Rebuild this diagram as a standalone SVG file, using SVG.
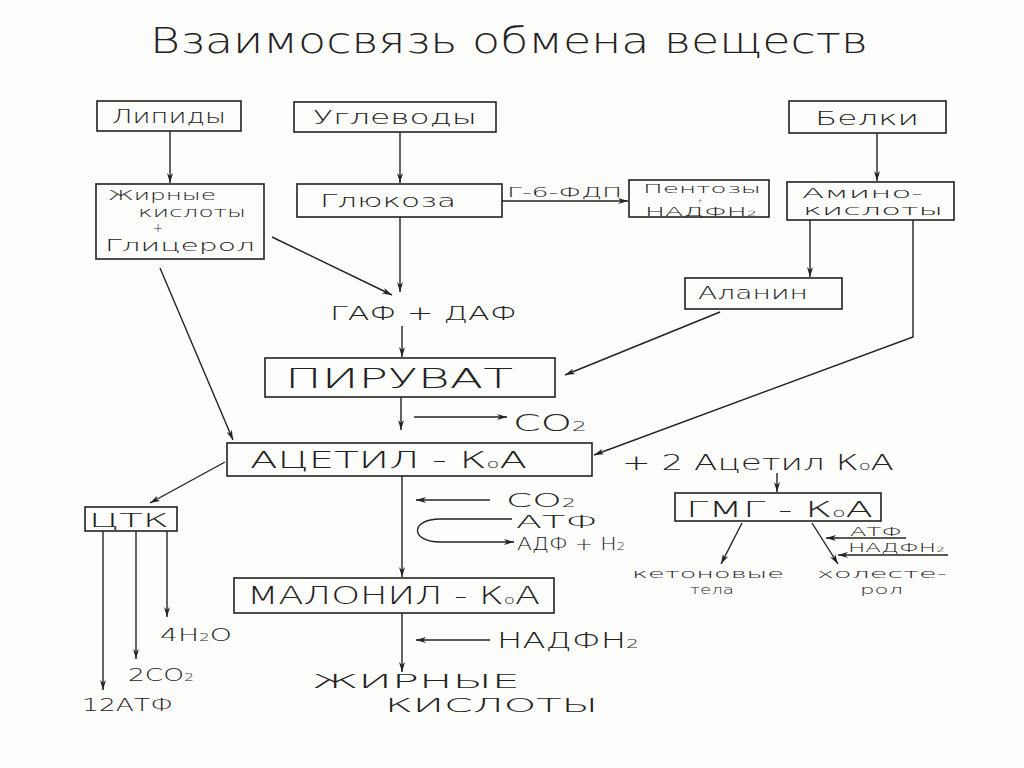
<svg xmlns="http://www.w3.org/2000/svg" width="1024" height="768" viewBox="0 0 1024 768">
<defs>
<marker id="ah" viewBox="0 0 10 6" refX="10" refY="3" markerWidth="10" markerHeight="6" markerUnits="userSpaceOnUse" orient="auto">
<path d="M0,0 L10,3 L0,6 L3,3 Z" fill="#222"/>
</marker>
<style>
.bx{fill:none;stroke:#222;stroke-width:1.6}
.ar{fill:none;stroke:#222;stroke-width:1.4;marker-end:url(#ah)}
text{font-family:"DejaVu Sans","Liberation Sans",sans-serif;fill:#222;font-weight:300}
.t{font-size:19px;text-anchor:middle}
.sub{font-size:0.6em}
</style>
</defs>
<rect width="1024" height="768" fill="#fdfdfc"/>
<text x="150" y="53" font-size="36" textLength="718" lengthAdjust="spacingAndGlyphs">Взаимосвязь обмена веществ</text>

<g id="lipidy"><rect class="bx" x="97" y="101" width="144" height="30"/><text class="t" x="169" y="123" textLength="114" lengthAdjust="spacingAndGlyphs">Липиды</text></g>
<g id="uglevody"><rect class="bx" x="294" y="102" width="202" height="30"/><text class="t" x="395" y="124" textLength="164" lengthAdjust="spacingAndGlyphs">Углеводы</text></g>
<g id="belki"><rect class="bx" x="789" y="101" width="157" height="32"/><text class="t" x="867" y="125" textLength="104" lengthAdjust="spacingAndGlyphs">Белки</text></g>

<g id="zhk"><rect class="bx" x="96" y="184" width="168" height="75"/>
<text x="108" y="200" font-size="14" textLength="108" lengthAdjust="spacingAndGlyphs">Жирные</text>
<text x="138" y="217" font-size="14" textLength="108" lengthAdjust="spacingAndGlyphs">кислоты</text>
<text x="158" y="232" font-size="12" text-anchor="middle">+</text>
<text x="105" y="251" font-size="15" textLength="150" lengthAdjust="spacingAndGlyphs">Глицерол</text></g>

<g id="glukoza"><rect class="bx" x="297" y="184" width="205" height="33"/><text x="320" y="207" font-size="18" textLength="136" lengthAdjust="spacingAndGlyphs">Глюкоза</text></g>

<g id="pentozy"><rect class="bx" x="629" y="180" width="140" height="37"/>
<text x="643" y="193" font-size="12" textLength="118" lengthAdjust="spacingAndGlyphs">Пентозы</text>
<text x="700" y="202.5" font-size="7" text-anchor="middle">+</text>
<text x="645" y="216" font-size="12" textLength="112" lengthAdjust="spacingAndGlyphs">НАДФН<tspan class="sub">2</tspan></text></g>

<g id="amino"><rect class="bx" x="787" y="182" width="167" height="38"/>
<text x="802" y="198" font-size="14" textLength="121" lengthAdjust="spacingAndGlyphs">Амино-</text>
<text x="803" y="215" font-size="14" textLength="140" lengthAdjust="spacingAndGlyphs">кислоты</text></g>

<g id="alanin"><rect class="bx" x="685" y="278" width="157" height="31"/><text x="698" y="299" font-size="17" textLength="110" lengthAdjust="spacingAndGlyphs">Аланин</text></g>

<g id="gaf"><text x="330" y="320" font-size="20" textLength="187" lengthAdjust="spacingAndGlyphs">ГАФ + ДАФ</text></g>

<g id="piruvat"><rect class="bx" x="265" y="358" width="290" height="39"/><text x="285" y="388" font-size="27" textLength="228" lengthAdjust="spacingAndGlyphs">ПИРУВАТ</text></g>
<g id="co2a"><text x="513" y="431" font-size="23" textLength="74" lengthAdjust="spacingAndGlyphs">CO<tspan class="sub">2</tspan></text></g>

<g id="acetil"><rect class="bx" x="227" y="443" width="365" height="33"/><text x="250" y="468" font-size="23" textLength="277" lengthAdjust="spacingAndGlyphs">АЦЕТИЛ - К<tspan font-size="12">о</tspan>А</text></g>
<g id="acetil2"><text x="622" y="470" font-size="21" textLength="272" lengthAdjust="spacingAndGlyphs">+ 2 Ацетил К<tspan font-size="12">о</tspan>А</text></g>

<g id="gmg"><rect class="bx" x="675" y="493" width="206" height="28"/><text x="686" y="517" font-size="22" textLength="187" lengthAdjust="spacingAndGlyphs">ГМГ - К<tspan font-size="12">о</tspan>А</text></g>
<g id="gmg-in"><text x="850" y="536" font-size="12" textLength="52" lengthAdjust="spacingAndGlyphs">АТФ</text>
<text x="848" y="552" font-size="12" textLength="97" lengthAdjust="spacingAndGlyphs">НАДФН<tspan class="sub">2</tspan></text></g>
<g id="keton"><text x="632" y="578" font-size="13" textLength="152" lengthAdjust="spacingAndGlyphs">кетоновые</text><text x="690" y="594" font-size="13" textLength="44" lengthAdjust="spacingAndGlyphs">тела</text></g>
<g id="holest"><text x="817" y="578" font-size="13" textLength="130" lengthAdjust="spacingAndGlyphs">холесте-</text><text x="860" y="594" font-size="13" textLength="43" lengthAdjust="spacingAndGlyphs">рол</text></g>

<g id="ctk"><rect class="bx" x="85" y="507" width="92" height="24"/><text x="89" y="527" font-size="20" textLength="80" lengthAdjust="spacingAndGlyphs">ЦТК</text></g>
<g id="h2o"><text x="160" y="641" font-size="18" textLength="72" lengthAdjust="spacingAndGlyphs">4H<tspan class="sub">2</tspan>O</text></g>
<g id="co2c"><text x="128" y="681" font-size="18" textLength="66" lengthAdjust="spacingAndGlyphs">2CO<tspan class="sub">2</tspan></text></g>
<g id="atf12"><text x="82" y="711" font-size="18" textLength="91" lengthAdjust="spacingAndGlyphs">12АТФ</text></g>

<g id="co2b"><text x="506" y="507" font-size="19" textLength="70" lengthAdjust="spacingAndGlyphs">CO<tspan class="sub">2</tspan></text></g>
<g id="atf"><text x="516" y="528" font-size="17" textLength="82" lengthAdjust="spacingAndGlyphs">АТФ</text></g>
<g id="adf"><text x="517" y="550" font-size="17" textLength="108" lengthAdjust="spacingAndGlyphs">АДФ + H<tspan class="sub">2</tspan></text></g>

<g id="malonil"><rect class="bx" x="234" y="578" width="320" height="35"/><text x="247" y="604" font-size="24" textLength="293" lengthAdjust="spacingAndGlyphs">МАЛОНИЛ - К<tspan font-size="12">о</tspan>А</text></g>
<g id="nadfh"><text x="497" y="648" font-size="21" textLength="142" lengthAdjust="spacingAndGlyphs">НАДФН<tspan class="sub">2</tspan></text></g>
<g id="zhk2"><text x="312" y="688" font-size="20" textLength="208" lengthAdjust="spacingAndGlyphs">ЖИРНЫЕ</text><text x="385" y="712" font-size="20" textLength="213" lengthAdjust="spacingAndGlyphs">КИСЛОТЫ</text></g>

<g id="connectors">
<line class="ar" x1="170" y1="131" x2="170" y2="183"/>
<line class="ar" x1="400" y1="132" x2="400" y2="183"/>
<line class="ar" x1="877" y1="133" x2="877" y2="181"/>
<line class="ar" x1="400" y1="217" x2="400" y2="292"/>
<line class="ar" x1="272" y1="237" x2="392" y2="295"/>
<line class="ar" x1="502" y1="201" x2="628" y2="201"/>
<text x="507" y="197" font-size="14" textLength="115" lengthAdjust="spacingAndGlyphs">Г-6-ФДП</text>
<line class="ar" x1="810" y1="220" x2="810" y2="277"/>
<polyline class="ar" points="913,220 913,337 594,455"/>
<line class="ar" x1="720" y1="312" x2="565" y2="375"/>
<line class="ar" x1="402" y1="326" x2="402" y2="357"/>
<line class="ar" x1="160" y1="268" x2="233" y2="440"/>
<line class="ar" x1="401" y1="397" x2="401" y2="430"/>
<line class="ar" x1="414" y1="417" x2="507" y2="417"/>
<line class="ar" x1="225" y1="462" x2="150" y2="503"/>
<line class="ar" x1="103" y1="531" x2="103" y2="690"/>
<line class="ar" x1="136" y1="531" x2="136" y2="659"/>
<line class="ar" x1="167" y1="531" x2="167" y2="617"/>
<line class="ar" x1="402" y1="476" x2="402" y2="577"/>
<line class="ar" x1="490" y1="500" x2="416" y2="500"/>
<path class="ar" d="M512,519 L440,519 C410,519 410,542 440,542 L514,542"/>
<line class="ar" x1="402" y1="613" x2="402" y2="672"/>
<line class="ar" x1="490" y1="640" x2="416" y2="640"/>
<line class="ar" x1="777" y1="473" x2="777" y2="492"/>
<line class="ar" x1="742" y1="523" x2="721" y2="564"/>
<line class="ar" x1="812" y1="523" x2="838" y2="564"/>
<line class="ar" x1="906" y1="538" x2="826" y2="538"/>
<line class="ar" x1="948" y1="555" x2="838" y2="555"/>
</g>
</svg>
